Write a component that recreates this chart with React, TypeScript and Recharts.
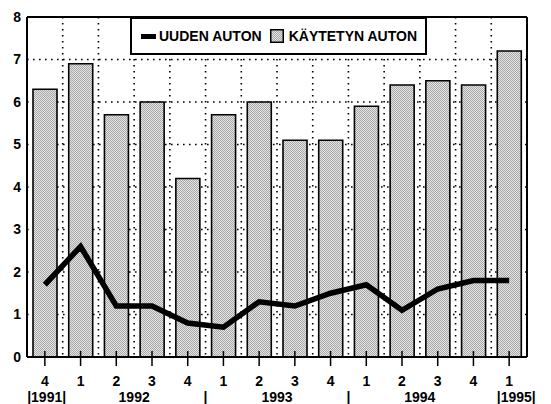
import {
  ComposedChart,
  Bar,
  Line,
  XAxis,
  YAxis,
  CartesianGrid,
  Legend,
  ReferenceLine,
} from 'recharts'

const quarters = ['4', '1', '2', '3', '4', '1', '2', '3', '4', '1', '2', '3', '4', '1']
const kaytetyn = [6.3, 6.9, 5.7, 6.0, 4.2, 5.7, 6.0, 5.1, 5.1, 5.9, 6.4, 6.5, 6.4, 7.2]
const uuden = [1.7, 2.6, 1.2, 1.2, 0.8, 0.7, 1.3, 1.2, 1.5, 1.7, 1.1, 1.6, 1.8, 1.8]
const yTicks = [0, 1, 2, 3, 4, 5, 6, 7, 8]
// year row: position on the quarter index scale -> label
const yearTicks = [0.05, 2.5, 4.5, 6.5, 8.5, 10.5, 13.2]
const yearLabels = ['|1991|', '1992', '|', '1993', '|', '1994', '|1995|']

const data = quarters.map((q, i) => ({ q, idx: i, kaytetyn: kaytetyn[i], uuden: uuden[i] }))

const FONT = '"Liberation Sans", Arial, Helvetica, sans-serif'
const tickStyle = { fill: '#000', fontSize: 14, fontWeight: 700, fontFamily: FONT }

function QuarterTick({ x, y, payload }: any) {
  return (
    <g>
      <line x1={x} x2={x} y1={y - 8} y2={y + 7} stroke="#000" strokeWidth={1.5} />
      <text x={x} y={y + 27} textAnchor="middle" {...tickStyle}>
        {payload.value}
      </text>
    </g>
  )
}

function YearTick({ x, y, payload }: any) {
  const label = yearLabels[yearTicks.indexOf(payload.value)] ?? ''
  return (
    <text x={x} y={y + 13} textAnchor="middle" {...tickStyle}>
      {label}
    </text>
  )
}

function LegendBox() {
  return (
    <div
      style={{
        boxSizing: 'border-box',
        width: 297,
        height: 38,
        border: '2px solid #000',
        background: '#fff',
        display: 'flex',
        alignItems: 'center',
        paddingLeft: 9,
        fontFamily: FONT,
        fontWeight: 700,
        fontSize: 14,
        color: '#000',
        whiteSpace: 'nowrap',
      }}
    >
      <span style={{ display: 'inline-block', width: 15, height: 5, background: '#000', marginRight: 3 }} />
      <span>UUDEN AUTON</span>
      <svg width={14} height={14} style={{ marginLeft: 8, marginRight: 5 }}>
        <defs>
          <pattern id="stippleLegend" width={2} height={2} patternUnits="userSpaceOnUse">
            <rect width={2} height={2} fill="#e4e4e4" />
            <rect width={1} height={1} fill="#a8a8a8" />
            <rect x={1} y={1} width={1} height={1} fill="#a8a8a8" />
          </pattern>
        </defs>
        <rect x={0.75} y={0.75} width={12.5} height={12.5} fill="url(#stippleLegend)" stroke="#000" strokeWidth={1.5} />
      </svg>
      <span>KÄYTETYN AUTON</span>
    </div>
  )
}

export default function App() {
  return (
    <div style={{ width: 551, height: 404, overflow: 'hidden', background: '#fff' }}>
      <style>{`body{margin:0}`}</style>
      <ComposedChart
        width={551}
        height={412}
        data={data}
        margin={{ top: 17, right: 0, bottom: 0, left: 0 }}
      >
        <defs>
          <pattern id="stipple" width={2} height={2} patternUnits="userSpaceOnUse">
            <rect width={2} height={2} fill="#e4e4e4" />
            <rect width={1} height={1} fill="#a8a8a8" />
            <rect x={1} y={1} width={1} height={1} fill="#a8a8a8" />
          </pattern>
        </defs>
        <CartesianGrid
          yAxisId="left"
          stroke="#000"
          strokeWidth={1.6}
          strokeDasharray="1.6 4.4"
          verticalCoordinatesGenerator={({ offset }: any) =>
            quarters.slice(1).map((_, i) => offset.left + (offset.width * (i + 1)) / quarters.length)
          }
        />
        <XAxis
          dataKey="q"
          height={30}
          interval={0}
          tickLine={false}
          tickSize={0}
          axisLine={{ stroke: '#000', strokeWidth: 2 }}
          tick={<QuarterTick />}
        />
        <XAxis
          xAxisId="yr"
          dataKey="idx"
          type="number"
          domain={[-0.5, quarters.length - 0.5]}
          allowDataOverflow
          ticks={yearTicks}
          interval={0}
          allowDecimals
          height={25}
          axisLine={false}
          tickLine={false}
          tickSize={0}
          tick={<YearTick />}
        />
        <YAxis
          yAxisId="left"
          domain={[0, 8]}
          ticks={yTicks}
          width={27}
          tickLine={false}
          tickSize={0}
          tickMargin={6}
          axisLine={{ stroke: '#000', strokeWidth: 2 }}
          tick={tickStyle}
        />
        <YAxis
          yAxisId="right"
          orientation="right"
          domain={[0, 8]}
          ticks={yTicks}
          width={24}
          tickLine={false}
          tickSize={0}
          tickMargin={8}
          axisLine={{ stroke: '#000', strokeWidth: 2 }}
          tick={tickStyle}
        />
        <ReferenceLine yAxisId="left" y={8} stroke="#000" strokeWidth={2} />
        <Bar
          yAxisId="left"
          dataKey="kaytetyn"
          name="KÄYTETYN AUTON"
          fill="url(#stipple)"
          stroke="#000"
          strokeWidth={1.6}
          barSize={24}
          isAnimationActive={false}
        />
        <Line
          yAxisId="left"
          dataKey="uuden"
          name="UUDEN AUTON"
          stroke="#000"
          strokeWidth={5.5}
          strokeLinejoin="miter"
          strokeLinecap="butt"
          dot={false}
          activeDot={false}
          type="linear"
          isAnimationActive={false}
        />
        <Legend
          layout="horizontal"
          verticalAlign="middle"
          align="center"
          wrapperStyle={{ left: 130, top: 17, width: 297, height: 38 }}
          content={() => <LegendBox />}
        />
      </ComposedChart>
    </div>
  )
}
